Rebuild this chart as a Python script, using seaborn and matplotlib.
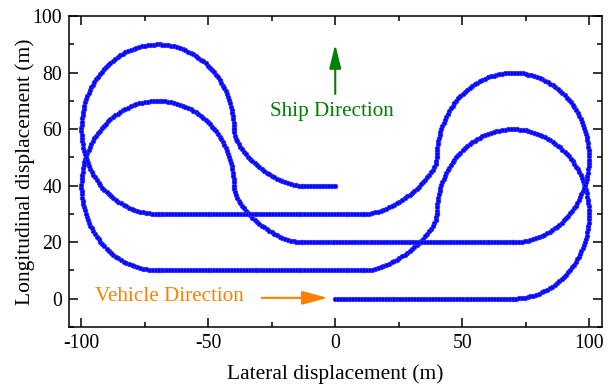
import numpy as np
import pandas as pd
import seaborn as sns
import matplotlib
matplotlib.use("Agg")
import matplotlib.pyplot as plt
from matplotlib.ticker import MultipleLocator

# ---- data (metres) ----
# straight runs of the trajectory, in driving order
line_y = [0, 10, 20, 30, 40]
line_x_start = [0, 11, -13, 11, -13]
line_x_end = [70, -70, 70, -70, 0]
# turning loops (circle part), in driving order
loop_cx = [70, -70, 70, -70]
loop_cy = [30, 40, 50, 60]
loop_radius = [30, 30, 30, 30]
loop_turn = ["ccw", "cw", "ccw", "cw"]

x_ticks = [-100, -50, 0, 50, 100]
y_ticks = [0, 20, 40, 60, 80, 100]

STEP = 1.15  # spacing of recorded samples along the path (m)


def n_for(length):
    return max(2, int(np.ceil(length / STEP)))


def seg_line(x0, x1, y):
    n = n_for(abs(x1 - x0))
    xs = np.linspace(x0, x1, n)
    return xs, np.full_like(xs, y, dtype=float)


def seg_loop(cx, cy, r, turn):
    n = n_for(1.5 * np.pi * r)
    s = np.linspace(0, 1, n)
    a = np.deg2rad(-90 + 270 * s) if turn == "ccw" else np.deg2rad(-90 - 270 * s)
    return cx + r * np.cos(a), cy + r * np.sin(a)


def seg_s(p0, p3):
    # smooth transition: leaves the loop heading down, joins the next run horizontally
    p1 = (p0[0], p0[1] - 7)
    p2 = (p3[0] + 12 * np.sign(p0[0] - p3[0]), p3[1])
    t = np.linspace(0, 1, 60)
    b = [(1 - t) ** 3, 3 * (1 - t) ** 2 * t, 3 * (1 - t) * t ** 2, t ** 3]
    xs = b[0] * p0[0] + b[1] * p1[0] + b[2] * p2[0] + b[3] * p3[0]
    ys = b[0] * p0[1] + b[1] * p1[1] + b[2] * p2[1] + b[3] * p3[1]
    # resample by arc length
    d = np.r_[0, np.cumsum(np.hypot(np.diff(xs), np.diff(ys)))]
    m = n_for(d[-1])
    dd = np.linspace(0, d[-1], m)
    return np.interp(dd, d, xs), np.interp(dd, d, ys)


xs_all, ys_all = [], []
for k in range(len(line_y)):
    x, y = seg_line(line_x_start[k], line_x_end[k], line_y[k])
    xs_all.append(x); ys_all.append(y)
    if k < len(loop_cx):
        cx, cy, r, tn = loop_cx[k], loop_cy[k], loop_radius[k], loop_turn[k]
        x, y = seg_loop(cx, cy, r, tn)
        xs_all.append(x); ys_all.append(y)
        side = -r if tn == "ccw" else r
        p0 = (cx + side, cy)
        p3 = (line_x_start[k + 1], line_y[k + 1])
        x, y = seg_s(p0, p3)
        xs_all.append(x); ys_all.append(y)

path = pd.DataFrame({"x": np.concatenate(xs_all), "y": np.concatenate(ys_all)})

# ---- styling ----
sns.set_theme(style="ticks")
plt.rcParams["font.family"] = ["Liberation Serif", "DejaVu Serif"]

fig = plt.figure(figsize=(6.14, 3.86), dpi=100)
ax = fig.add_axes([0.112, 0.153, 0.868, 0.805])

sns.lineplot(data=path, x="x", y="y", sort=False, estimator=None, ax=ax,
             color="#0000FF", lw=1.2, marker="o", markersize=3.3,
             markeredgewidth=0.5, markeredgecolor="#3333FF")

ax.set_xlim(-105, 105)
ax.set_ylim(-10, 100)
ax.set_xticks(x_ticks)
ax.set_yticks(y_ticks)
ax.set_xticklabels([str(v) for v in x_ticks])
ax.set_yticklabels([str(v) for v in y_ticks])
ax.xaxis.set_minor_locator(MultipleLocator(25))
ax.yaxis.set_minor_locator(MultipleLocator(10))
ax.tick_params(which="both", direction="in", top=True, right=True,
               color="black", width=1.1, labelsize=14.2, labelcolor="black", pad=5)
ax.tick_params(which="major", length=6.5)
ax.tick_params(which="minor", length=3.3)
for sp in ax.spines.values():
    sp.set_visible(True)
    sp.set_color("black")
    sp.set_linewidth(1.1)

ax.set_xlabel("Lateral displacement (m)", fontsize=15.5, color="black", labelpad=8)
ax.set_ylabel("Longitudinal displacement (m)", fontsize=15.5, color="black", labelpad=-2)

# annotations
ax.annotate("", xy=(0, 90), xytext=(0, 72.5),
            arrowprops=dict(arrowstyle="-|>,head_length=1.2,head_width=0.3",
                            mutation_scale=12, color="#008000", lw=1.5,
                            shrinkA=0, shrinkB=0))
ax.text(-1.2, 66.2, "Ship Direction", color="#008000", fontsize=15.2,
        ha="center", va="center")

ax.annotate("", xy=(-3, 0.3), xytext=(-29, 0.3),
            arrowprops=dict(arrowstyle="-|>,head_length=1.3,head_width=0.35",
                            mutation_scale=12, color="#FF8000", lw=1.5,
                            shrinkA=0, shrinkB=0))
ax.text(-65.4, 0.6, "Vehicle Direction", color="#FF8000", fontsize=15.2,
        ha="center", va="center")

fig.savefig("out.png", dpi=100)
